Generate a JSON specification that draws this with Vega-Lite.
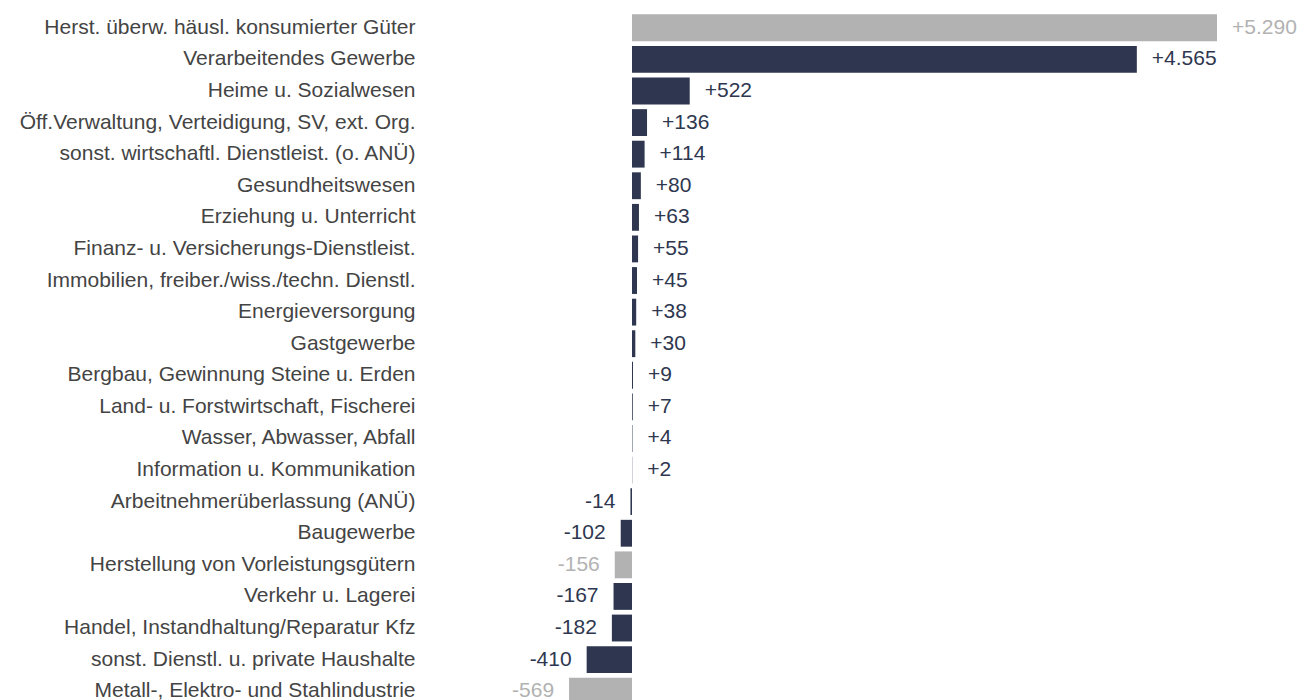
{
  "$schema": "https://vega.github.io/schema/vega-lite/v6.json",
  "autosize": {"type": "none"},
  "padding": {"left": 420, "top": 12, "right": 0, "bottom": 0},
  "width": 893,
  "height": 695,
  "background": "white",
  "config": {"view": {"stroke": null}, "font": "Liberation Sans"},
  "data": {"values": [
    {"sektor": "Herst. überw. häusl. konsumierter Güter", "wert": 5290, "label": "+5.290", "typ": "Teilbereich"},
    {"sektor": "Verarbeitendes Gewerbe", "wert": 4565, "label": "+4.565", "typ": "Wirtschaftszweig"},
    {"sektor": "Heime u. Sozialwesen", "wert": 522, "label": "+522", "typ": "Wirtschaftszweig"},
    {"sektor": "Öff.Verwaltung, Verteidigung, SV, ext. Org.", "wert": 136, "label": "+136", "typ": "Wirtschaftszweig"},
    {"sektor": "sonst. wirtschaftl. Dienstleist. (o. ANÜ)", "wert": 114, "label": "+114", "typ": "Wirtschaftszweig"},
    {"sektor": "Gesundheitswesen", "wert": 80, "label": "+80", "typ": "Wirtschaftszweig"},
    {"sektor": "Erziehung u. Unterricht", "wert": 63, "label": "+63", "typ": "Wirtschaftszweig"},
    {"sektor": "Finanz- u. Versicherungs-Dienstleist.", "wert": 55, "label": "+55", "typ": "Wirtschaftszweig"},
    {"sektor": "Immobilien, freiber./wiss./techn. Dienstl.", "wert": 45, "label": "+45", "typ": "Wirtschaftszweig"},
    {"sektor": "Energieversorgung", "wert": 38, "label": "+38", "typ": "Wirtschaftszweig"},
    {"sektor": "Gastgewerbe", "wert": 30, "label": "+30", "typ": "Wirtschaftszweig"},
    {"sektor": "Bergbau, Gewinnung Steine u. Erden", "wert": 9, "label": "+9", "typ": "Wirtschaftszweig"},
    {"sektor": "Land- u. Forstwirtschaft, Fischerei", "wert": 7, "label": "+7", "typ": "Wirtschaftszweig"},
    {"sektor": "Wasser, Abwasser, Abfall", "wert": 4, "label": "+4", "typ": "Wirtschaftszweig"},
    {"sektor": "Information u. Kommunikation", "wert": 2, "label": "+2", "typ": "Wirtschaftszweig"},
    {"sektor": "Arbeitnehmerüberlassung (ANÜ)", "wert": -14, "label": "-14", "typ": "Wirtschaftszweig"},
    {"sektor": "Baugewerbe", "wert": -102, "label": "-102", "typ": "Wirtschaftszweig"},
    {"sektor": "Herstellung von Vorleistungsgütern", "wert": -156, "label": "-156", "typ": "Teilbereich"},
    {"sektor": "Verkehr u. Lagerei", "wert": -167, "label": "-167", "typ": "Wirtschaftszweig"},
    {"sektor": "Handel, Instandhaltung/Reparatur Kfz", "wert": -182, "label": "-182", "typ": "Wirtschaftszweig"},
    {"sektor": "sonst. Dienstl. u. private Haushalte", "wert": -410, "label": "-410", "typ": "Wirtschaftszweig"},
    {"sektor": "Metall-, Elektro- und Stahlindustrie", "wert": -569, "label": "-569", "typ": "Teilbereich"}
  ]},
  "encoding": {
    "y": {"field": "sektor", "type": "nominal", "sort": null,
      "scale": {"paddingInner": 0.15, "paddingOuter": 0.075},
      "axis": {"title": null, "domain": false, "ticks": false, "labelPadding": 5, "labelFontSize": 21, "labelColor": "#444444", "labelFont": "Liberation Sans", "labelLimit": 0}}
  },
  "layer": [
    {
      "mark": {"type": "bar"},
      "encoding": {
        "x": {"field": "wert", "type": "quantitative", "scale": {"domain": [-1917, 6158], "nice": false, "zero": false}, "axis": null},
        "color": {"field": "typ", "type": "nominal", "scale": {"domain": ["Teilbereich", "Wirtschaftszweig"], "range": ["#b2b2b2", "#2e374f"]}, "legend": null}
      }
    },
    {
      "transform": [{"filter": "datum.wert >= 0"}],
      "mark": {"type": "text", "align": "left", "baseline": "middle", "dx": 15, "fontSize": 21, "font": "Liberation Sans"},
      "encoding": {
        "x": {"field": "wert", "type": "quantitative"},
        "text": {"field": "label"},
        "color": {"field": "typ", "type": "nominal", "scale": {"domain": ["Teilbereich", "Wirtschaftszweig"], "range": ["#a6a6a6", "#2e374f"]}, "legend": null}
      }
    },
    {
      "transform": [{"filter": "datum.wert < 0"}],
      "mark": {"type": "text", "align": "right", "baseline": "middle", "dx": -15, "fontSize": 21, "font": "Liberation Sans"},
      "encoding": {
        "x": {"field": "wert", "type": "quantitative"},
        "text": {"field": "label"},
        "color": {"field": "typ", "type": "nominal", "legend": null}
      }
    },
    {
      "mark": {"type": "rule", "color": "#3c3c3c", "strokeWidth": 2},
      "encoding": {"x": {"datum": 0}}
    }
  ]
}
